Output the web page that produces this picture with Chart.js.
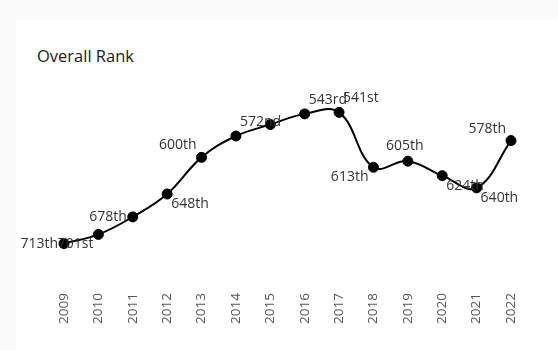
<!DOCTYPE html>
<html>
<head>
<meta charset="utf-8">
<script src="https://cdn.jsdelivr.net/npm/chart.js@4"></script>
<style>
  html, body { margin: 0; padding: 0; }
  body { width: 558px; height: 350px; background: #f9f9f9; position: relative; overflow: hidden; font-family: 'Open Sans', sans-serif; }
  .card { position: absolute; left: 16px; top: 20px; right: 0; bottom: 0; background: #fff; }
  .card h3 { position: absolute; left: 21px; top: 25px; margin: 0; font-size: 16.5px; line-height: 22px; font-weight: 400; color: #1a1a1a; }
  #rank-chart { position: absolute; left: 0; top: 0; }
</style>
</head>
<body>
<div class="card">
  <h3>Overall Rank</h3>
  <canvas id="rank-chart" width="542" height="330"></canvas>
</div>
<script>
// values
const years = ['2009', '2010', '2011', '2012', '2013', '2014', '2015', '2016', '2017', '2018', '2019', '2020', '2021', '2022'];
const ranks = [713, 701, 678, 648, 600, 572, 557, 543, 541, 613, 605, 624, 640, 578];

// where each rank label sits around its point (null = label not shown)
const labelPos = ['l', 'lb', 'l', 'rb', 'lt', 'rt', null, 'rt', 'rt', 'lb', 't', 'rb', 'rb', 'lt'];

function ordinal(n) {
  const t = n % 100;
  if (t >= 11 && t <= 13) return n + 'th';
  const s = { 1: 'st', 2: 'nd', 3: 'rd' }[n % 10];
  return n + (s || 'th');
}

const OFFSETS = {
  l: [-6, 0, 'right'],
  lb: [-5, 10, 'right'],
  lt: [-5, -12, 'right'],
  rt: [4, -14, 'left'],
  rb: [4, 10, 'left'],
  t: [-3, -15, 'center'],
};

const rankLabels = {
  id: 'rankLabels',
  afterDatasetsDraw(chart) {
    const { ctx } = chart;
    const meta = chart.getDatasetMeta(0);
    ctx.save();
    ctx.font = "14px 'Open Sans', sans-serif";
    ctx.fillStyle = '#333';
    ctx.textBaseline = 'middle';
    meta.data.forEach((pt, i) => {
      const pos = labelPos[i];
      if (!pos) return;
      const [dx, dy, align] = OFFSETS[pos];
      ctx.textAlign = align;
      ctx.fillText(ordinal(ranks[i]), pt.x + dx, pt.y + dy);
    });
    ctx.restore();
  },
};

new Chart(document.getElementById('rank-chart'), {
  type: 'line',
  data: {
    labels: years,
    datasets: [
      {
        label: 'Overall Rank',
        data: ranks,
        borderColor: '#000',
        borderWidth: 2,
        backgroundColor: '#000',
        pointRadius: 5,
        pointBorderWidth: 1,
        pointBorderColor: '#000',
        tension: 0.4,
        fill: false,
      },
    ],
  },
  options: {
    responsive: false,
    devicePixelRatio: 1,
    animation: false,
    layout: { padding: { left: 48, right: 47, top: 71, bottom: 23 } },
    plugins: {
      legend: { display: false },
      tooltip: { enabled: false },
    },
    scales: {
      x: {
        offset: false,
        border: { display: false },
        grid: { display: false, drawTicks: false },
        ticks: {
          padding: 3,
          minRotation: 90,
          maxRotation: 90,
          autoSkip: false,
          color: '#555',
          font: { family: "'Open Sans', sans-serif", size: 13.5 },
        },
      },
      y: {
        display: false,
        reverse: true,
        min: 513,
        max: 774,
      },
    },
  },
  plugins: [rankLabels],
});
</script>
</body>
</html>
